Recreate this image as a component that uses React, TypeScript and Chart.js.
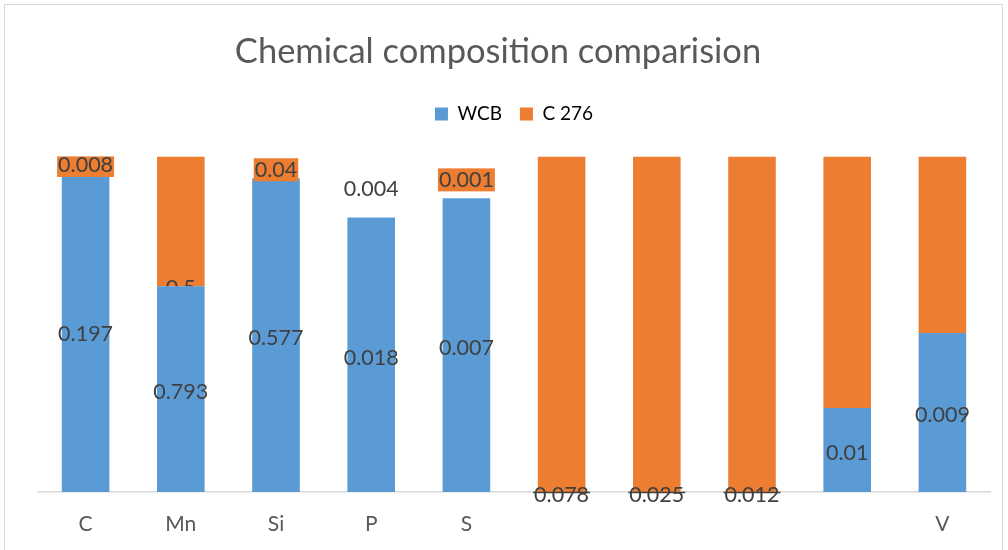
import React, { useEffect, useRef } from "react";
import { Chart, registerables } from "chart.js";

Chart.register(...registerables);

const TITLE = "Chemical composition comparision";
const categories = ["C", "Mn", "Si", "P", "S", "", "", "", "", "V"];
const wcbValues = [0.197, 0.793, 0.577, 0.018, 0.007, 0, 0, 0, 0.01, 0.009];
const c276Values = [0.008, 0.5, 0.04, 0.004, 0.001, 0.078, 0.025, 0.012, 0.03, 0.01];
const wcbLabels = ["0.197", "0.793", "0.577", "0.018", "0.007", "0.078", "0.025", "0.012", "0.01", "0.009"];
const c276Labels = ["0.008", "0.5", "0.04", "0.004", "0.001", "", "", "", "", ""];

const BLUE = "#5B9BD5";
const ORANGE = "#ED7D31";
const FONT = "Lato";

// styling of the C 276 series (Excel-like per-point formatting)
const c276Fill = [null, ORANGE, null, null, null, ORANGE, ORANGE, ORANGE, ORANGE, ORANGE];
const c276LabelBox = [true, false, true, false, true, false, false, false, false, false];
const c276LabelAtBase = [false, true, false, false, false, false, false, false, false, false];

const totals = wcbValues.map((v, i) => v + c276Values[i]);
const wcbShare = wcbValues.map((v, i) => (v / totals[i]) * 100);
const c276Share = c276Values.map((v, i) => (v / totals[i]) * 100);

const labelPlugin = {
  id: "valueLabels",
  beforeDraw(chart: any) {
    const ctx = chart.ctx;
    ctx.save();
    ctx.strokeStyle = "#d9d9d9";
    ctx.lineWidth = 1;
    ctx.strokeRect(4.5, 4.5, 998, 600);
    // chart title
    ctx.fillStyle = "#595959";
    ctx.font = `34.5px ${FONT}`;
    ctx.textAlign = "center";
    ctx.textBaseline = "middle";
    ctx.fillText(TITLE, 498, 51.7);
    ctx.restore();
  },
  afterDatasetsDraw(chart: any) {
    const ctx = chart.ctx;
    const area = chart.chartArea;
    ctx.save();
    ctx.font = `21.5px ${FONT}`;
    ctx.textAlign = "center";
    ctx.textBaseline = "middle";
    // C 276 labels
    const m1 = chart.getDatasetMeta(1);
    m1.data.forEach((el: any, i: number) => {
      const t = c276Labels[i];
      if (!t) return;
      const top = Math.min(el.y, el.base);
      const bot = Math.max(el.y, el.base);
      let y = (top + bot) / 2 + 2.5;
      ctx.save();
      if (c276LabelAtBase[i]) {
        y = bot + 2;
        ctx.beginPath();
        ctx.rect(el.x - 30, top, 60, bot - top);
        ctx.clip();
      }
      if (c276LabelBox[i]) {
        const w = ctx.measureText(t).width + 2;
        const bt = Math.max(area.top, y - 11.5);
        ctx.fillStyle = ORANGE;
        ctx.fillRect(el.x - w / 2, bt, w, y + 11.5 - bt);
      }
      ctx.fillStyle = "#404040";
      ctx.fillText(t, el.x, y);
      ctx.restore();
    });
    // WCB labels
    const m0 = chart.getDatasetMeta(0);
    m0.data.forEach((el: any, i: number) => {
      const t = wcbLabels[i];
      if (!t) return;
      const top = Math.min(el.y, el.base);
      const bot = Math.max(el.y, el.base);
      const y = (top + bot) / 2 + 3;
      ctx.fillStyle = "#404040";
      ctx.fillText(t, el.x, y);
      if (wcbValues[i] === 0) {
        const w = ctx.measureText(t).width;
        ctx.strokeStyle = "#404040";
        ctx.lineWidth = 1.5;
        ctx.beginPath();
        ctx.moveTo(el.x - w / 2 - 1, bot + 0.5);
        ctx.lineTo(el.x + w / 2 + 1, bot + 0.5);
        ctx.stroke();
      }
    });
    ctx.restore();
  },
};

export default function App() {
  const ref = useRef<HTMLCanvasElement>(null);
  useEffect(() => {
    document.body.style.margin = "0";
    const chart = new Chart(ref.current as HTMLCanvasElement, {
      type: "bar",
      data: {
        labels: categories,
        datasets: [
          {
            label: "WCB",
            data: wcbShare,
            backgroundColor: BLUE,
            barPercentage: 0.5,
            categoryPercentage: 1,
          },
          {
            label: "C 276",
            data: c276Share,
            backgroundColor: c276Fill.map((c) => c || "rgba(0,0,0,0)"),
            barPercentage: 0.5,
            categoryPercentage: 1,
          },
        ],
      },
      options: {
        animation: false,
        responsive: false,
        layout: { padding: { left: 38, right: 18, top: 86.4, bottom: 14 } },
        plugins: {
          title: { display: false },
          legend: {
            display: true,
            labels: {
              color: "#595959",
              font: { family: FONT, size: 19 },
              boxWidth: 13,
              boxHeight: 13,
              padding: 18,
              generateLabels: () => [
                { text: "WCB", fillStyle: BLUE, strokeStyle: BLUE, lineWidth: 0, datasetIndex: 0 },
                { text: "C 276", fillStyle: ORANGE, strokeStyle: ORANGE, lineWidth: 0, datasetIndex: 1 },
              ] as any,
            },
          },
          tooltip: { enabled: false },
        },
        scales: {
          x: {
            stacked: true,
            grid: { display: false, drawTicks: false },
            border: { display: true, color: "#d9d9d9", width: 1.5 },
            ticks: { color: "#595959", font: { family: FONT, size: 21 }, padding: 20 },
            afterFit: (s: any) => {
              s.height = 44;
            },
          },
          xTop: {
            type: "category",
            position: "top",
            display: true,
            grid: { display: false, drawTicks: false },
            border: { display: false },
            ticks: { display: false },
            afterFit: (s: any) => {
              s.height = 23;
            },
          },
          y: { stacked: true, display: false, min: 0, max: 100 },
        },
      } as any,
      plugins: [labelPlugin],
    });
    return () => chart.destroy();
  }, []);
  return <canvas ref={ref} width={1008} height={550} style={{ display: "block" }} />;
}
